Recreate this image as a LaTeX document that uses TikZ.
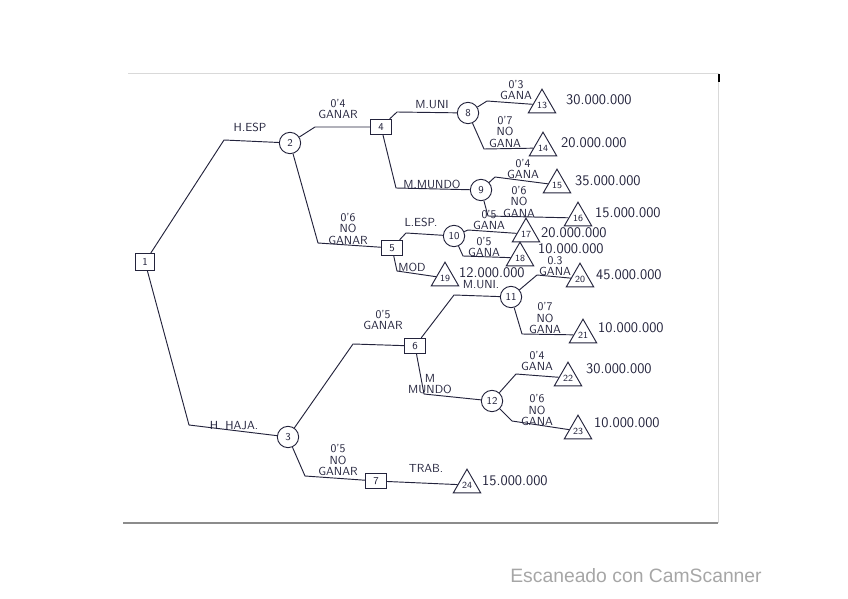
\documentclass[tikz,border=0pt]{standalone}
\usepackage{fontspec}
\usepackage{tikz}
\usetikzlibrary{shapes.geometric}
\newfontfamily\scanfont{Liberation Sans}
\definecolor{ink}{RGB}{35,35,60}

\begin{document}
\begin{tikzpicture}[x=0.03cm, y=-0.03cm,
        dec/.style={rectangle, draw=ink, line width=0.8pt, minimum width=0.62cm,
                    minimum height=0.46cm, inner sep=1pt, text=ink, font=\sffamily\small},
        chance/.style={circle, draw=ink, line width=0.8pt, minimum size=0.64cm,
                       inner sep=0pt, text=ink, font=\sffamily\small},
        leaf/.style={regular polygon, regular polygon sides=3, draw=ink, line width=0.8pt,
                     minimum size=0.95cm, inner sep=0pt, text=ink, font=\sffamily\footnotesize},
        lbl/.style={text=ink, align=center, inner sep=0pt,
                    font=\sffamily\fontsize{10}{9.5}\selectfont},
        val/.style={text=ink, anchor=west, inner sep=0pt,
                    font=\sffamily\fontsize{12.5}{13}\selectfont},
        branch/.style={draw=ink, line width=0.8pt}
    ]
    \useasboundingbox (0,0) rectangle (848,599);

    % scanned sheet
    \draw[black!15, line width=0.6pt] (128,73) -- (718,73) -- (718,523);
    \draw[black!45, line width=1pt] (123,523) -- (718,523);
    \draw[black, line width=1.5pt] (719,74) -- (719,82);

    % decisions
    \node[dec, minimum width=0.58cm, minimum height=0.5cm] (n1) at (145,262) {1};
    \node[dec] (n4) at (381,127) {4};
    \node[dec] (n5) at (392,248) {5};
    \node[dec] (n6) at (415,346) {6};
    \node[dec] (n7) at (376,481) {7};

    % chance nodes
    \node[chance] (n2)  at (290,143) {2};
    \node[chance] (n3)  at (288,437) {3};
    \node[chance] (n8)  at (468,113) {8};
    \node[chance] (n9)  at (481,190) {9};
    \node[chance] (n10) at (454,236) {10};
    \node[chance] (n11) at (511,297) {11};
    \node[chance] (n12) at (492,401) {12};

    % end nodes
    \node[leaf] (t13) at (542,105) {13};
    \node[leaf] (t14) at (543,148) {14};
    \node[leaf] (t15) at (557,185) {15};
    \node[leaf] (t16) at (578,218) {16};
    \node[leaf] (t17) at (526,234) {17};
    \node[leaf] (t18) at (520,258) {18};
    \node[leaf] (t19) at (445,278) {19};
    \node[leaf] (t20) at (580,279) {20};
    \node[leaf] (t21) at (583,335) {21};
    \node[leaf] (t22) at (568,378) {22};
    \node[leaf] (t23) at (578,431) {23};
    \node[leaf] (t24) at (467,485) {24};

    \node[val] (v13) at (566,100) {30.000.000};
    \node[val] (v14) at (561,143) {20.000.000};
    \node[val] (v15) at (575,181) {35.000.000};
    \node[val] (v16) at (595,213) {15.000.000};
    \node[val] (v17) at (541,233) {20.000.000};
    \node[val] (v18) at (538,249) {10.000.000};
    \node[val] (v19) at (459,273) {12.000.000};
    \node[val] (v20) at (596,275) {45.000.000};
    \node[val] (v21) at (598,328) {10.000.000};
    \node[val] (v22) at (586,369) {30.000.000};
    \node[val] (v23) at (594,423) {10.000.000};
    \node[val] (v24) at (482,481) {15.000.000};

    % branches
    \draw[branch] (n1) -- (224,140) -- (n2);
    \draw[branch] (n1) -- (189,425) -- (n3);
    \draw[branch] (n2) -- (315,127) -- (n4);
    \draw[branch] (n2) -- (318,243) -- (n5);
    \draw[branch] (n3) -- (353,344) -- (n6);
    \draw[branch] (n3) -- (305,476) -- (n7);
    \draw[branch] (n4) -- (397,112) -- (n8);
    \draw[branch] (n4) -- (396,188) -- (n9);
    \draw[branch] (n8) -- (487,101) -- (t13);
    \draw[branch] (n8) -- (484,149) -- (t14);
    \draw[branch] (n9) -- (495,177) -- (t15);
    \draw[branch] (n9) -- (488,216) -- (t16);
    \draw[branch] (n5) -- (406,233) -- (n10);
    \draw[branch] (n10) -- (468,230) -- (t17);
    \draw[branch] (n10) -- (463,256) -- (t18);
    \draw[branch] (n5) -- (397,271) -- (t19);
    \draw[branch] (n6) -- (454,295) -- (n11);
    \draw[branch] (n11) -- (537,275) -- (t20);
    \draw[branch] (n11) -- (522,334) -- (t21);
    \draw[branch] (n6) -- (424,394) -- (n12);
    \draw[branch] (n12) -- (516,374) -- (t22);
    \draw[branch] (n12) -- (512,421) -- (t23);
    \draw[branch] (n7) -- (t24);

    % branch labels
    \node[lbl] (hesp)  at (250,127) {H.ESP};
    \node[lbl] (hmaja) at (234,426) {H. HAJA.};
    \node[lbl] (g24)   at (338,109) {0'4\\GANAR};
    \node[lbl] (g25)   at (348,229) {0'6\\NO\\GANAR};
    \node[lbl] (g36)   at (383,320) {0'5\\GANAR};
    \node[lbl] (g37)   at (338,460) {0'5\\NO\\GANAR};
    \node[lbl] (muni)  at (432,105) {M.UNI};
    \node[lbl] (mmun)  at (432,184) {M.MUNDO};
    \node[lbl] (lesp)  at (421,222) {L.ESP.};
    \node[lbl] (mod)   at (412,267) {MOD};
    \node[lbl] (muni2) at (481,285) {M.UNI.};
    \node[lbl] (mmun2) at (430,384) {M\\MUNDO};
    \node[lbl] (trab)  at (426,468) {TRAB.};
    \node[lbl] (g813)  at (516,90)  {0'3\\GANA};
    \node[lbl] (g814)  at (505,132) {0'7\\NO\\GANA};
    \node[lbl] (g915)  at (523,169) {0'4\\GANA};
    \node[lbl] (g916)  at (519,202) {0'6\\NO\\GANA};
    \node[lbl] (g1017) at (489,220) {0'5\\GANA};
    \node[lbl] (g1018) at (484,247) {0'5\\GANA};
    \node[lbl] (g1120) at (555,266) {0.3\\GANA};
    \node[lbl] (g1121) at (545,318) {0'7\\NO\\GANA};
    \node[lbl] (g1222) at (537,361) {0'4\\GANA};
    \node[lbl] (g1223) at (537,410) {0'6\\NO\\GANA};

    \node[text=black!35, font=\scanfont\fontsize{16.5}{18}\selectfont] (scan) at (636,576)
          {Escaneado con CamScanner};
\end{tikzpicture}
\end{document}
